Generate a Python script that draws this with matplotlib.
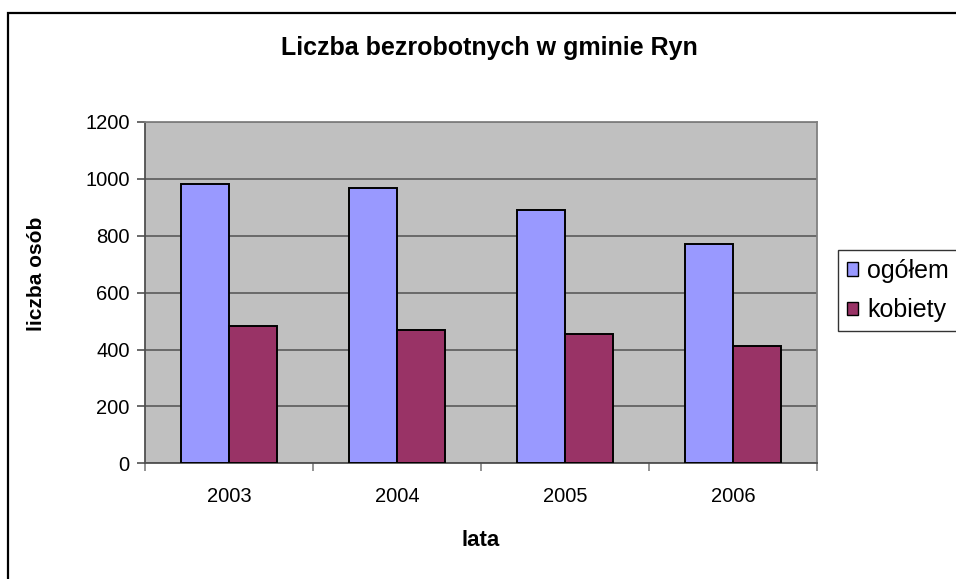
import numpy as np
import matplotlib.pyplot as plt
import matplotlib.patches as mpatches

plt.rcParams['font.family'] = ['Liberation Sans', 'DejaVu Sans']

years = ['2003', '2004', '2005', '2006']
ogolem = [982, 968, 891, 770]
kobiety = [483, 468, 455, 411]
series_names = ['ogółem', 'kobiety']
colors = ['#9999FF', '#993366']

W, H = 956, 579
fig = plt.figure(figsize=(W / 100, H / 100), dpi=100)
fig.patch.set_facecolor('white')

# outer chart border (cropped at right and bottom)
fig.patches.append(mpatches.Rectangle((8 / W, -0.05), 1.1, (H - 13) / H + 0.05,
                                      transform=fig.transFigure, fill=False,
                                      edgecolor='black', linewidth=1.6))

ax = fig.add_axes([145 / W, 1 - 463.3 / H, (817 - 145) / W, (463.3 - 122) / H])
ax.set_facecolor('#C0C0C0')

x = np.arange(len(years))
bw = 48 / 168
ax.bar(x - bw / 2, ogolem, bw, color=colors[0], edgecolor='black', linewidth=1.4,
       label=series_names[0], zorder=3)
ax.bar(x + bw / 2, kobiety, bw, color=colors[1], edgecolor='black', linewidth=1.4,
       label=series_names[1], zorder=3)

ax.set_xlim(-0.5, len(years) - 0.5)
ax.set_ylim(0, 1200)
ax.set_yticks(range(0, 1201, 200))
ax.yaxis.grid(True, color='#5a5a5a', linewidth=1.2, zorder=1)
ax.set_axisbelow(True)

ax.set_xticks(np.arange(-0.5, len(years), 1.0))
ax.set_xticklabels([])
ax.set_xticks(x, minor=True)
ax.set_xticklabels(years, minor=True)
ax.tick_params(axis='x', which='minor', length=0, pad=24, labelsize=14.5)
ax.tick_params(axis='x', which='major', length=6, width=1.2, color='#808080')
ax.tick_params(axis='y', length=6, width=1.2, color='#505050', labelsize=14.5, pad=5)
for lbl in ax.get_xticklabels(minor=True):
    lbl.set_va('center')

for side in ['top', 'right']:
    ax.spines[side].set_color('#808080')
    ax.spines[side].set_linewidth(1.3)
ax.spines['left'].set_color('#505050')
ax.spines['left'].set_linewidth(1.3)
ax.spines['bottom'].set_color('#505050')
ax.spines['bottom'].set_linewidth(1.3)

fig.text(489 / W, 1 - 48 / H, 'Liczba bezrobotnych w gminie Ryn', ha='center', va='center',
         fontsize=18, fontweight='bold')
fig.text(36 / W, 1 - 274 / H, 'liczba osób', ha='center', va='center', rotation=90,
         fontsize=15, fontweight='bold')
fig.text(481 / W, 1 - 541 / H, 'lata', ha='center', va='center',
         fontsize=16, fontweight='bold')

handles = [mpatches.Patch(facecolor=c, edgecolor='black', linewidth=1) for c in colors]
leg = fig.legend(handles, series_names, loc='upper left',
                 bbox_to_anchor=(838 / W, 1 - 250 / H), fontsize=18,
                 frameon=True, fancybox=False, edgecolor='black',
                 handlelength=0.45, handleheight=0.45, handletextpad=0.36,
                 borderpad=0.35, labelspacing=0.62, borderaxespad=0)
leg.get_frame().set_linewidth(1.0)

fig.savefig('out.png', dpi=100)
